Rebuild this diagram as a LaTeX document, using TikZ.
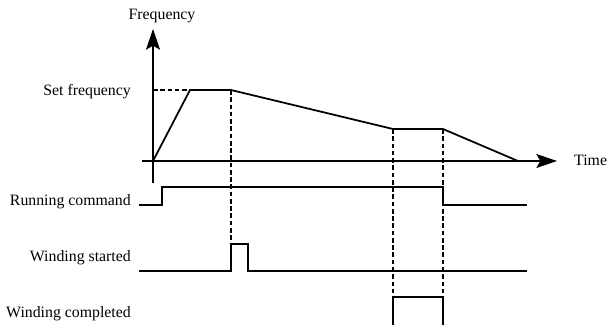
\documentclass[tikz,border=0pt]{standalone}
\usepackage{fontspec}
\setmainfont{Liberation Serif}
\usetikzlibrary{arrows.meta, positioning}

\begin{document}
\begin{tikzpicture}[
                x=0.03cm, y=-0.03cm,
                every node/.style={font=\fontsize{13.5}{16}\selectfont, inner sep=0pt},
                axis/.style={-{Stealth[length=0.62cm, width=0.42cm, inset=0.12cm]}, line width=1.5pt},
                signal/.style={line width=1.5pt},
                guide/.style={line width=1.4pt, dash pattern=on 4pt off 2.2pt}]
            \useasboundingbox (0,0) rectangle (609,324);

            % Axes
            \coordinate (ybot) at (153,183);
            \coordinate (ytop) at (153,29);
            \coordinate (xleft) at (142,161);
            \coordinate (xright) at (557,161);
            \draw[axis] (ybot) -- (ytop);
            \draw[axis] (xleft) -- (xright);
            \node (freq) at (162,16) {Frequency};
            \node[anchor=west] (time) at (574,160) {Time};

            % Frequency curve
            \coordinate (o) at (153,161);
            \coordinate (ramp) at (190,90);
            \coordinate (hold) at (231,90);
            \coordinate (low1) at (393,129);
            \coordinate (low2) at (443,129);
            \coordinate (stop) at (518,161);
            \coordinate (fref) at (153,90);
            \draw[signal] (o) -- (ramp) -- (hold) -- (low1) -- (low2) -- (stop);
            \node[anchor=east] (setf) at (131,92) {Set frequency};
            \draw[guide] (fref) -- (ramp);

            % Signals
            \node[anchor=east] (run) at (131,202) {Running command};
            \node[anchor=east] (wstart) at (131,258) {Winding started};
            \node[anchor=east] (wdone) at (131,314) {Winding completed};
            \coordinate (pstart) at (231,244);
            \coordinate (pdone1) at (393,297);
            \coordinate (pdone2) at (443,297);
            \draw[signal] (139,205) -- (162,205) -- (162,187) -- (443,187) -- (443,205) -- (527,205);
            \draw[signal] (139,271) -- (231,271) -- (pstart) -- (248,244) -- (248,271) -- (527,271);
            \draw[signal] (393,326) -- (pdone1) -- (pdone2) -- (443,326);

            % Dashed guides
            \draw[guide] (hold) -- (pstart);
            \draw[guide] (low1) -- (pdone1);
            \draw[guide] (low2) -- (pdone2);

        \end{tikzpicture}
\end{document}
